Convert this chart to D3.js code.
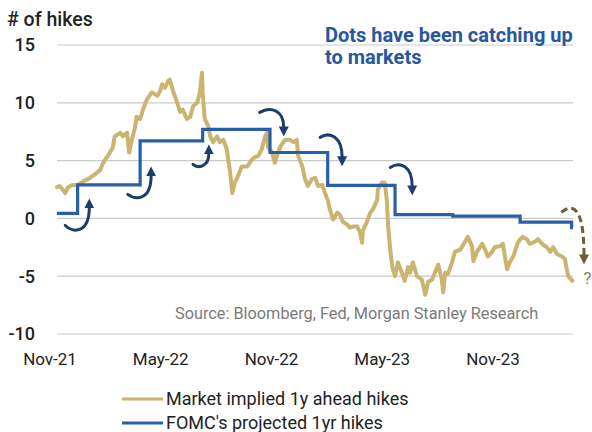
<!DOCTYPE html>
<html><head><meta charset="utf-8">
<script src="https://cdn.jsdelivr.net/npm/d3@7"></script>
<style>html,body{margin:0;padding:0;background:#fff;} text{font-family:Roboto,"Noto Sans",sans-serif;}</style>
</head><body><svg id="c" width="592" height="432"></svg>
<script>
// ---- data ----
const marketDates = ["2021-11-15","2021-11-19","2021-11-27","2021-12-01","2021-12-08","2021-12-16","2021-12-23","2022-01-02","2022-01-09","2022-01-17","2022-01-21","2022-01-28","2022-02-04","2022-02-07","2022-02-15","2022-02-19","2022-02-25","2022-02-28","2022-03-04","2022-03-09","2022-03-11","2022-03-16","2022-03-20","2022-03-26","2022-04-02","2022-04-10","2022-04-14","2022-04-17","2022-04-21","2022-04-26","2022-04-28","2022-05-03","2022-05-09","2022-05-13","2022-05-17","2022-05-23","2022-05-28","2022-06-01","2022-06-07","2022-06-11","2022-06-14","2022-06-15","2022-06-18","2022-06-23","2022-06-26","2022-06-30","2022-07-06","2022-07-10","2022-07-15","2022-07-20","2022-07-25","2022-07-28","2022-08-01","2022-08-05","2022-08-11","2022-08-19","2022-08-26","2022-08-30","2022-09-04","2022-09-09","2022-09-14","2022-09-17","2022-09-18","2022-09-24","2022-09-28","2022-10-01","2022-10-06","2022-10-13","2022-10-20","2022-10-25","2022-10-30","2022-11-01","2022-11-07","2022-11-11","2022-11-15","2022-11-21","2022-11-26","2022-11-30","2022-12-06","2022-12-10","2022-12-14","2022-12-17","2022-12-22","2022-12-28","2023-01-01","2023-01-05","2023-01-11","2023-01-15","2023-01-20","2023-01-26","2023-01-30","2023-02-02","2023-02-03","2023-02-09","2023-02-14","2023-02-18","2023-02-24","2023-02-25","2023-03-03","2023-03-07","2023-03-10","2023-03-12","2023-03-15","2023-03-18","2023-03-22","2023-03-26","2023-04-01","2023-04-05","2023-04-10","2023-04-13","2023-04-17","2023-04-23","2023-04-30","2023-05-05","2023-05-09","2023-05-15","2023-05-19","2023-05-24","2023-05-29","2023-05-31","2023-06-03","2023-06-07","2023-06-13","2023-06-17","2023-06-25","2023-07-02","2023-07-06","2023-07-12","2023-07-14","2023-07-19","2023-07-27","2023-07-31","2023-08-04","2023-08-10","2023-08-14","2023-08-22","2023-08-26","2023-09-01","2023-09-05","2023-09-10","2023-09-16","2023-09-20","2023-09-24","2023-09-30","2023-10-04","2023-10-12","2023-10-16","2023-10-22","2023-10-29","2023-11-03","2023-11-07","2023-11-13","2023-11-20","2023-11-24","2023-11-27","2023-11-29","2023-12-05"];
const marketHikes = [2.7,2.8,2.2,2.7,2.9,2.9,3.2,3.5,3.8,4.2,4.8,5.4,6.1,7.1,7.4,7.1,7.4,5.7,6.8,8.0,8.8,8.6,9.4,10.3,10.9,10.6,11.0,11.6,11.3,11.9,12.0,11.0,10.0,9.2,9.4,8.6,8.8,9.7,10.0,10.9,12.6,10.9,8.6,8.0,7.1,6.6,7.1,6.6,6.8,6.0,4.0,2.2,3.1,3.6,4.5,4.5,5.1,5.3,5.4,6.0,7.1,7.4,6.2,5.7,4.8,5.4,6.2,6.8,6.8,6.6,6.8,5.4,4.5,3.4,2.8,3.4,3.5,2.8,2.9,2.2,1.6,0.8,-0.1,0.5,0.3,-0.3,-0.5,-0.8,-0.7,-0.7,-1.2,-2.1,-1.1,-0.3,0.5,0.8,1.6,2.5,3.1,3.1,1.6,-0.7,-2.7,-4.2,-5.0,-3.8,-4.7,-5.4,-4.2,-4.7,-3.8,-5.0,-5.3,-6.6,-5.5,-5.3,-4.7,-4.0,-5.3,-6.4,-4.7,-4.8,-3.8,-2.9,-2.7,-2.0,-1.6,-2.4,-3.7,-2.9,-2.2,-2.7,-3.3,-2.9,-2.5,-2.4,-2.2,-4.4,-3.8,-3.3,-2.2,-1.8,-1.6,-1.8,-2.2,-2.0,-1.8,-2.2,-2.5,-2.9,-2.5,-3.1,-3.3,-3.5,-4.4,-5.0,-5.4];

const fomcDates = ["2021-11-15","2021-12-15","2022-03-16","2022-06-15","2022-09-21","2022-12-14","2023-03-22","2023-06-14","2023-09-20","2023-12-04","2023-12-06"];
const fomcHikes = [0.43,2.9,6.7,7.7,5.7,2.85,0.33,0.2,-0.32,-0.8,-0.8];

const xTickLabels = ["Nov-21","May-22","Nov-22","May-23","Nov-23"];
const yTicks = [-10,-5,0,5,10,15];
const seriesNames = ["Market implied 1y ahead hikes","FOMC's projected 1yr hikes"];

// annotation arrows (start, ctrl1, ctrl2, end) in data space
const upDownArrows = [
  [["2021-11-27",-0.61],["2021-12-08",-1.3],["2022-01-01",-1.3],["2022-01-01",0.95]],
  [["2022-02-26",2.08],["2022-03-10",1.56],["2022-04-01",1.56],["2022-04-01",3.72]],
  [["2022-06-01",4.67],["2022-06-11",4.24],["2022-06-24",4.58],["2022-06-24",5.62]],
  [["2022-09-06",9.17],["2022-09-21",9.69],["2022-10-11",9.43],["2022-10-11",7.87]],
  [["2022-12-03",7.01],["2022-12-17",7.53],["2023-01-04",7.09],["2023-01-04",5.28]],
  [["2023-03-15",4.41],["2023-03-29",4.93],["2023-04-16",4.58],["2023-04-16",2.77]]
];
const dashedArrow = [["2023-11-19",0.52],["2023-12-05",1.3],["2023-12-22",1.12],["2023-12-22",-3.2]];

// ---- chart ----
const parse = d3.timeParse("%Y-%m-%d");
const svg = d3.select("#c");
const W = 592, H = 432;
svg.append("rect").attr("width",W).attr("height",H).attr("fill","#fff");

const x = d3.scaleTime().domain([parse("2021-11-15"), parse("2023-12-06")]).range([57, 573]);
const y = d3.scaleLinear().domain([-10, 15]).range([334, 45]);
const xLab = d3.scalePoint().domain(xTickLabels).range([50, 493]);

const GOLD = "#cbb370", BLUE = "#2760a8", NAVY = "#1c3d6e", OLIVE = "#6e5f33";

// gridlines
svg.append("g").selectAll("line").data(yTicks).join("line")
  .attr("x1",57).attr("x2",573).attr("y1",d=>y(d)).attr("y2",d=>y(d))
  .attr("stroke","#c9c9c9").attr("stroke-width",1.2);

// y labels
svg.append("g").selectAll("text").data(yTicks).join("text")
  .attr("x",35).attr("y",d=>y(d)).attr("dy","0.36em").attr("text-anchor","end")
  .attr("font-size",18).attr("font-weight",500).attr("fill","#222").text(d=>d);

// x labels
svg.append("g").selectAll("text").data(xTickLabels).join("text")
  .attr("x",d=>xLab(d)).attr("y",365).attr("text-anchor","middle")
  .attr("font-size",17).attr("fill","#222").text(d=>d);

svg.append("text").attr("x",7).attr("y",26).attr("font-size",19.5).attr("font-weight",500)
  .attr("fill","#222").text("# of hikes");

// source
svg.append("text").attr("x",175).attr("y",319).attr("font-size",16.3).attr("fill","#7a7a7a")
  .text("Source: Bloomberg, Fed, Morgan Stanley Research");

// series
const market = marketDates.map((d,i)=>({date:parse(d), v:marketHikes[i]}));
const fomc = fomcDates.map((d,i)=>({date:parse(d), v:fomcHikes[i]}));

svg.append("path").datum(market)
  .attr("d", d3.line().x(d=>x(d.date)).y(d=>y(d.v)))
  .attr("fill","none").attr("stroke",GOLD).attr("stroke-width",4)
  .attr("stroke-linejoin","round").attr("stroke-linecap","round");

svg.append("path").datum(fomc)
  .attr("d", d3.line().curve(d3.curveStepAfter).x(d=>x(d.date)).y(d=>y(d.v)))
  .attr("fill","none").attr("stroke",BLUE).attr("stroke-width",3.2);

// arrow markers
const defs = svg.append("defs");
function marker(id, color){
  defs.append("marker").attr("id",id).attr("viewBox","0 0 10 10")
    .attr("refX",1).attr("refY",5).attr("markerWidth",10).attr("markerHeight",11)
    .attr("markerUnits","userSpaceOnUse").attr("orient","auto")
    .append("path").attr("d","M0,0 L10,5 L0,10 Z").attr("fill",color);
}
marker("mNavy", NAVY); marker("mOlive", OLIVE);

function arrowPath(pts){
  const p = pts.map(([d,v])=>[x(parse(d)), y(v)]);
  return `M${p[0]}C${p[1]} ${p[2]} ${p[3]}`;
}
svg.append("g").selectAll("path").data(upDownArrows).join("path")
  .attr("d", arrowPath).attr("fill","none").attr("stroke",NAVY).attr("stroke-width",3)
  .attr("stroke-linecap","round").attr("marker-end","url(#mNavy)");

svg.append("path").datum(dashedArrow).attr("d", arrowPath).attr("fill","none")
  .attr("stroke",OLIVE).attr("stroke-width",3).attr("stroke-dasharray","7,4")
  .attr("marker-end","url(#mOlive)");

svg.append("text").attr("x", x(parse("2023-12-27"))).attr("y", y(-5.68))
  .attr("text-anchor","middle").attr("font-size",17).attr("fill","#8a7d5c").text("?");

// title
const title = svg.append("text").attr("x",325).attr("font-size",20).attr("font-weight",700).attr("fill","#2658a0");
title.append("tspan").attr("x",325).attr("y",42).text("Dots have been catching up");
title.append("tspan").attr("x",325).attr("y",64).text("to markets");

// legend
const lg = svg.append("g");
const colors = [GOLD, BLUE];
seriesNames.forEach((n,i)=>{
  const ly = 399 + i*24;
  lg.append("line").attr("x1",122).attr("x2",163).attr("y1",ly).attr("y2",ly)
    .attr("stroke",colors[i]).attr("stroke-width",3);
  lg.append("text").attr("x",166).attr("y",ly).attr("dy","0.35em").attr("font-size",18)
    .attr("fill","#222").text(n);
});
</script></body></html>
